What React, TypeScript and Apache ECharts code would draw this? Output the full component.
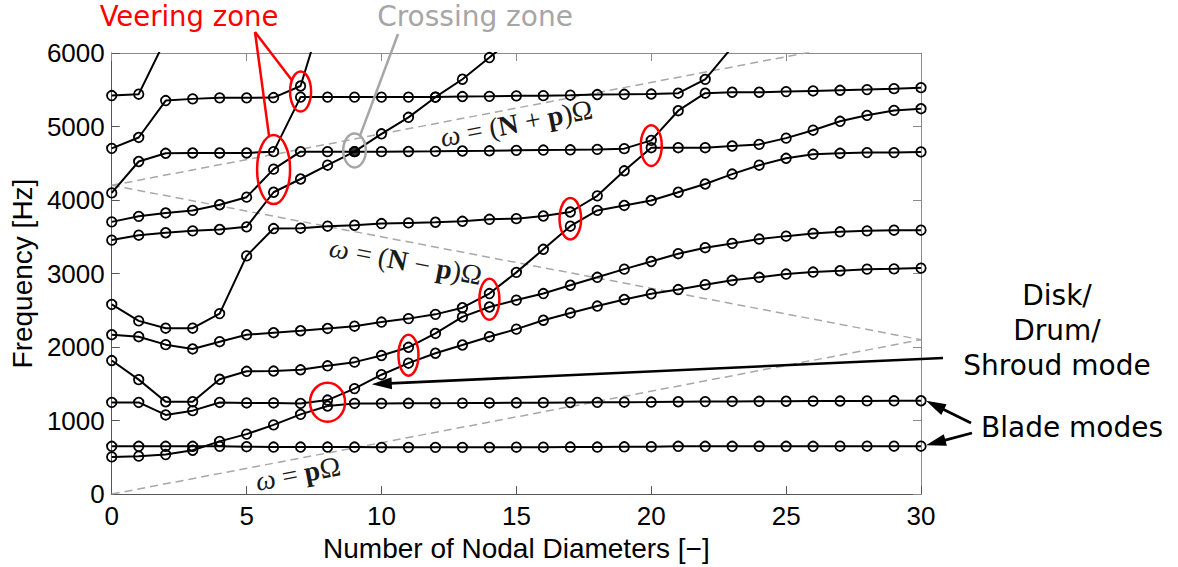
import { useEffect, useRef } from "react";
import * as echarts from "echarts";

// Nodal diameters on the horizontal axis
const nodalDiameters = [0, 1, 2, 3, 4, 5, 6, 7, 8, 9, 10, 11, 12, 13, 14, 15, 16, 17, 18, 19, 20, 21, 22, 23, 24, 25, 26, 27, 28, 29, 30];

// Natural frequencies [Hz] of each branch, one value per nodal diameter.
// null marks diameters where the branch has already left the plotted range.
const bladeBranch1 = [650, 650, 650, 650, 650, 645, 640, 640, 640, 640, 636, 636, 636, 636, 636, 638, 638, 640, 640, 643, 645, 650, 650, 650, 650, 650, 650, 652, 652, 652, 652];
const bladeBranch2 = [506, 516, 538, 596, 717, 816, 942, 1085, 1198, 1233, 1233, 1235, 1237, 1238, 1240, 1242, 1244, 1246, 1248, 1250, 1252, 1256, 1258, 1260, 1262, 1263, 1265, 1266, 1268, 1269, 1270];
const branch3 = [1247, 1247, 1077, 1135, 1247, 1240, 1240, 1233, 1279, 1435, 1624, 1781, 1916, 2028, 2141, 2244, 2365, 2464, 2558, 2647, 2724, 2782, 2849, 2908, 2949, 2993, 3020, 3038, 3060, 3064, 3074];
const branch4 = [1817, 1557, 1256, 1256, 1562, 1670, 1674, 1691, 1745, 1795, 1885, 1997, 2185, 2410, 2545, 2639, 2728, 2841, 2949, 3060, 3164, 3270, 3352, 3410, 3469, 3509, 3545, 3568, 3581, 3590, 3590];
const branch5 = [2168, 2141, 2033, 1974, 2073, 2168, 2195, 2222, 2253, 2284, 2340, 2387, 2445, 2535, 2728, 3016, 3330, 3644, 3859, 3926, 3994, 4106, 4218, 4353, 4474, 4568, 4622, 4636, 4645, 4645, 4654];
const branch6 = [2580, 2356, 2257, 2257, 2455, 3240, 3612, 3617, 3644, 3657, 3680, 3689, 3698, 3711, 3738, 3747, 3783, 3837, 4057, 4398, 4712, 4712, 4712, 4735, 4757, 4842, 4950, 5071, 5152, 5219, 5242];
const branch7 = [3455, 3522, 3555, 3581, 3599, 3635, 4106, 4286, 4474, 4658, 4901, 5125, 5399, 5643, 5938, 6240, null, null, null, null, null, null, null, null, null, null, null, null, null, null, null];
const branch8 = [3703, 3778, 3824, 3859, 3936, 4039, 4420, 4658, 4658, 4658, 4658, 4660, 4662, 4667, 4670, 4676, 4680, 4683, 4689, 4699, 4811, 5215, 5453, 5466, 5466, 5475, 5484, 5493, 5502, 5515, 5529];
const branch9 = [4097, 4524, 4636, 4640, 4640, 4640, 4658, 5400, 5400, 5400, 5400, 5400, 5400, 5408, 5410, 5417, 5420, 5426, 5435, 5438, 5442, 5453, 5641, 6080, null, null, null, null, null, null, null];
const branch10 = [4703, 4851, 5353, 5376, 5390, 5390, 5394, 5551, 6750, null, null, null, null, null, null, null, null, null, null, null, null, null, null, null, null, null, null, null, null, null, null];
const branch11 = [5421, 5440, 6190, null, null, null, null, null, null, null, null, null, null, null, null, null, null, null, null, null, null, null, null, null, null, null, null, null, null, null, null];

// Point where two branches cross exactly
const crossingPoint = [[9, 4658]];

// Engine-order excitation lines (end points, [ND, Hz])
const orderP = [[0, 0], [30, 2100]];
const orderNminusP = [[0, 4200], [30, 2100]];
const orderNplusP = [[0, 4200], [30, 6300]];

// Highlighted regions [ND, Hz]
const veeringZones = [[7, 5475], [6, 4415], [8, 1250], [11, 1890], [14, 2650], [17, 3745], [20, 4740]];
const crossingZone = [9, 4675];

// Axis ranges
const ndRange = { min: 0, max: 30, step: 5 };
const freqRange = { min: 0, max: 6000, step: 1000 };

const branches = [bladeBranch1, bladeBranch2, branch3, branch4, branch5, branch6, branch7, branch8, branch9, branch10, branch11];

export default function App() {
  const ref = useRef<HTMLDivElement>(null);

  useEffect(() => {
    const chart = echarts.init(ref.current!, null, { renderer: "svg" });
    const sans = "Liberation Sans";
    const frameDark = "#555555";
    const frameLight = "#8a8a8a";

    const axisCommon = (color: string) => ({
      axisLine: { show: true, onZero: false, lineStyle: { color, width: 1 } },
      axisTick: { show: true, inside: true, length: 8, lineStyle: { color, width: 1 } },
      splitLine: { show: false },
    });

    const branchSeries = branches.map((vals, k) => ({
      name: `branch${k + 1}`,
      type: "line",
      data: nodalDiameters.map((nd, i) => [nd, vals[i]]),
      symbol: "circle",
      symbolSize: 9.5,
      clip: true,
      itemStyle: { color: "rgba(0,0,0,0)", borderColor: "#000", borderWidth: 1.8 },
      lineStyle: { color: "#000", width: 2 },
      z: 5,
      silent: true,
    }));

    const orderSeries = [orderP, orderNminusP, orderNplusP].map((seg, k) => ({
      name: `order${k}`,
      type: "line",
      data: seg,
      symbol: "none",
      clip: true,
      lineStyle: { color: "#a8a8a8", width: 1.5, type: [8, 5] },
      z: 2,
      silent: true,
    }));

    const plain = (v: number) => String(v);

    chart.setOption({
      animation: false,
      backgroundColor: "#ffffff",
      grid: { left: 109, right: 257, top: 53, bottom: 69 },
      xAxis: [
        {
          type: "value",
          min: ndRange.min,
          max: ndRange.max,
          interval: ndRange.step,
          position: "bottom",
          ...axisCommon(frameDark),
          axisLabel: { fontSize: 26, color: "#000", fontFamily: sans, margin: 9, showMinLabel: true, showMaxLabel: true, formatter: plain },
          name: "Number of Nodal Diameters [−]",
          nameLocation: "middle",
          nameGap: 32,
          nameTextStyle: { fontSize: 28, color: "#000", fontFamily: sans },
        },
        {
          type: "value",
          min: ndRange.min,
          max: ndRange.max,
          interval: ndRange.step,
          position: "top",
          ...axisCommon(frameLight),
          axisLabel: { show: false },
        },
      ],
      yAxis: [
        {
          type: "value",
          min: freqRange.min,
          max: freqRange.max,
          interval: freqRange.step,
          position: "left",
          ...axisCommon(frameDark),
          axisLabel: { fontSize: 26, color: "#000", fontFamily: sans, margin: 7, showMinLabel: true, showMaxLabel: true, formatter: plain },
          name: "Frequency [Hz]",
          nameLocation: "middle",
          nameGap: 74,
          nameTextStyle: { fontSize: 28, color: "#000", fontFamily: sans },
        },
        {
          type: "value",
          min: freqRange.min,
          max: freqRange.max,
          interval: freqRange.step,
          position: "right",
          ...axisCommon(frameLight),
          axisLabel: { show: false },
        },
      ],
      series: [
        ...orderSeries,
        ...branchSeries,
        {
          name: "crossing",
          type: "scatter",
          data: crossingPoint,
          symbol: "circle",
          symbolSize: 9,
          itemStyle: { color: "#000" },
          z: 6,
          silent: true,
        },
      ],
    });

    const toPx = (p: number[]) => chart.convertToPixel({ gridIndex: 0 }, p) as number[];
    const red = "#ff0000";
    const gray = "#a6a6a6";
    const annFont = "DejaVu Sans";
    const mathFont = "Liberation Serif";

    const edge = (c: number[], rx: number, ry: number, to: number[]) => {
      const dx = to[0] - c[0];
      const dy = to[1] - c[1];
      const s = 1 / Math.sqrt((dx / rx) ** 2 + (dy / ry) ** 2);
      return [c[0] + dx * s, c[1] + dy * s];
    };

    const arrow = (from: number[], to: number[], width: number, headLen: number, headW: number) => {
      const dx = to[0] - from[0];
      const dy = to[1] - from[1];
      const L = Math.hypot(dx, dy);
      const ux = dx / L;
      const uy = dy / L;
      const bx = to[0] - ux * headLen;
      const by = to[1] - uy * headLen;
      const nx = -uy;
      const ny = ux;
      return [
        { type: "line", silent: true, z: 20, shape: { x1: from[0], y1: from[1], x2: bx + ux * 2, y2: by + uy * 2 }, style: { stroke: "#000", lineWidth: width } },
        {
          type: "polygon",
          silent: true,
          z: 20,
          shape: { points: [[to[0], to[1]], [bx + (nx * headW) / 2, by + (ny * headW) / 2], [bx - (nx * headW) / 2, by - (ny * headW) / 2]] },
          style: { fill: "#000" },
        },
      ];
    };

    const elements: any[] = [];

    // ellipse radii in pixels for each highlighted zone
    const zoneRadii = [[10.5, 20], [16.5, 34.5], [17.5, 19.5], [10, 20.5], [10, 20.5], [10.8, 20.7], [10.5, 20.3]];
    const zoneCenters = veeringZones.map(toPx);
    zoneCenters.forEach((c, i) => {
      elements.push({
        type: "ellipse",
        silent: true,
        z: 15,
        shape: { cx: c[0], cy: c[1], rx: zoneRadii[i][0], ry: zoneRadii[i][1] },
        style: { fill: "none", stroke: red, lineWidth: 2.5 },
      });
    });

    // "Veering zone" label and its two leaders
    const veerLabel = [189, 16];
    const veerOrigin = [veerLabel[0] + 66, veerLabel[1] + 16];
    elements.push({
      type: "text",
      silent: true,
      z: 20,
      x: veerLabel[0],
      y: veerLabel[1],
      style: { text: "Veering zone", fontSize: 27.5, fontFamily: annFont, fill: red, align: "center", verticalAlign: "middle" },
    });
    [0, 1].forEach((i) => {
      const e = edge(zoneCenters[i], zoneRadii[i][0], zoneRadii[i][1], veerOrigin);
      elements.push({
        type: "line",
        silent: true,
        z: 15,
        shape: { x1: veerOrigin[0], y1: veerOrigin[1], x2: e[0], y2: e[1] },
        style: { stroke: red, lineWidth: 2.5 },
      });
    });

    // "Crossing zone" label
    const crossC = toPx(crossingZone);
    const crossR = [11.3, 17];
    const crossLabel = [475, 16];
    const crossOrigin = [crossLabel[0] - 77, crossLabel[1] + 18];
    const ce = edge(crossC, crossR[0], crossR[1], crossOrigin);
    elements.push(
      {
        type: "ellipse",
        silent: true,
        z: 15,
        shape: { cx: crossC[0], cy: crossC[1], rx: crossR[0], ry: crossR[1] },
        style: { fill: "none", stroke: gray, lineWidth: 2.5 },
      },
      {
        type: "line",
        silent: true,
        z: 15,
        shape: { x1: crossOrigin[0], y1: crossOrigin[1], x2: ce[0], y2: ce[1] },
        style: { stroke: gray, lineWidth: 2.5 },
      },
      {
        type: "text",
        silent: true,
        z: 20,
        x: crossLabel[0],
        y: crossLabel[1],
        style: { text: "Crossing zone", fontSize: 28, fontFamily: annFont, fill: gray, align: "center", verticalAlign: "middle" },
      }
    );

    // Engine-order line labels
    const mathSize = 28;
    const mathRich = {
      w: { fontStyle: "italic", fontSize: mathSize, fontFamily: mathFont, fill: "#1a1a1a" },
      b: { fontWeight: "bold", fontSize: mathSize, fontFamily: mathFont, fill: "#1a1a1a" },
    };
    const lineLabel = (seg: number[][], nd: number, drop: number, text: string) => {
      const a = toPx(seg[0]);
      const b = toPx(seg[1]);
      const angle = Math.atan2(a[1] - b[1], b[0] - a[0]);
      const hz = seg[0][1] + ((seg[1][1] - seg[0][1]) * (nd - seg[0][0])) / (seg[1][0] - seg[0][0]);
      const p = toPx([nd, hz]);
      return {
        type: "text",
        silent: true,
        z: 12,
        x: p[0],
        y: p[1] + drop,
        rotation: angle,
        style: { text, rich: mathRich, fontSize: mathSize, fontFamily: mathFont, fill: "#1a1a1a", align: "center", verticalAlign: "middle" },
      };
    };
    elements.push(
      lineLabel(orderNplusP, 15, 15, "{w|ω} = ({b|N} + {b|p})Ω"),
      lineLabel(orderNminusP, 10.9, 20, "{w|ω} = ({b|N} − {b|p})Ω"),
      lineLabel(orderP, 6.9, 15, "{w|ω} = {b|p}Ω")
    );

    // Disk/Drum/Shroud label and arrow
    elements.push({
      type: "text",
      silent: true,
      z: 20,
      x: 1057,
      y: 330,
      style: {
        text: "Disk/\nDrum/\nShroud mode",
        fontSize: 28,
        lineHeight: 35,
        fontFamily: annFont,
        fill: "#000",
        align: "center",
        verticalAlign: "middle",
      },
    });
    elements.push(...arrow([943, 358], toPx([9.64, 1495]), 2.6, 20, 12));

    // Blade modes label and arrows to the two blade branches at the last diameter
    const last = nodalDiameters.length - 1;
    const bladeLabel = [1072, 427];
    elements.push({
      type: "text",
      silent: true,
      z: 20,
      x: bladeLabel[0],
      y: bladeLabel[1],
      style: { text: "Blade modes", fontSize: 28, fontFamily: annFont, fill: "#000", align: "center", verticalAlign: "middle" },
    });
    const tipHi = toPx([nodalDiameters[last], bladeBranch2[last]]);
    const tipLo = toPx([nodalDiameters[last], bladeBranch1[last]]);
    elements.push(...arrow([bladeLabel[0] - 101, bladeLabel[1] - 4], [tipHi[0] + 5, tipHi[1]], 2.8, 20, 12));
    elements.push(...arrow([bladeLabel[0] - 100, bladeLabel[1] + 6], [tipLo[0] + 5, tipLo[1] - 1], 2.8, 20, 12));

    chart.setOption({ graphic: { elements } });

    return () => chart.dispose();
  }, []);

  return (
    <div
      ref={ref}
      style={{ position: "fixed", left: 0, top: 0, width: 1178, height: 567, background: "#fff" }}
    />
  );
}
